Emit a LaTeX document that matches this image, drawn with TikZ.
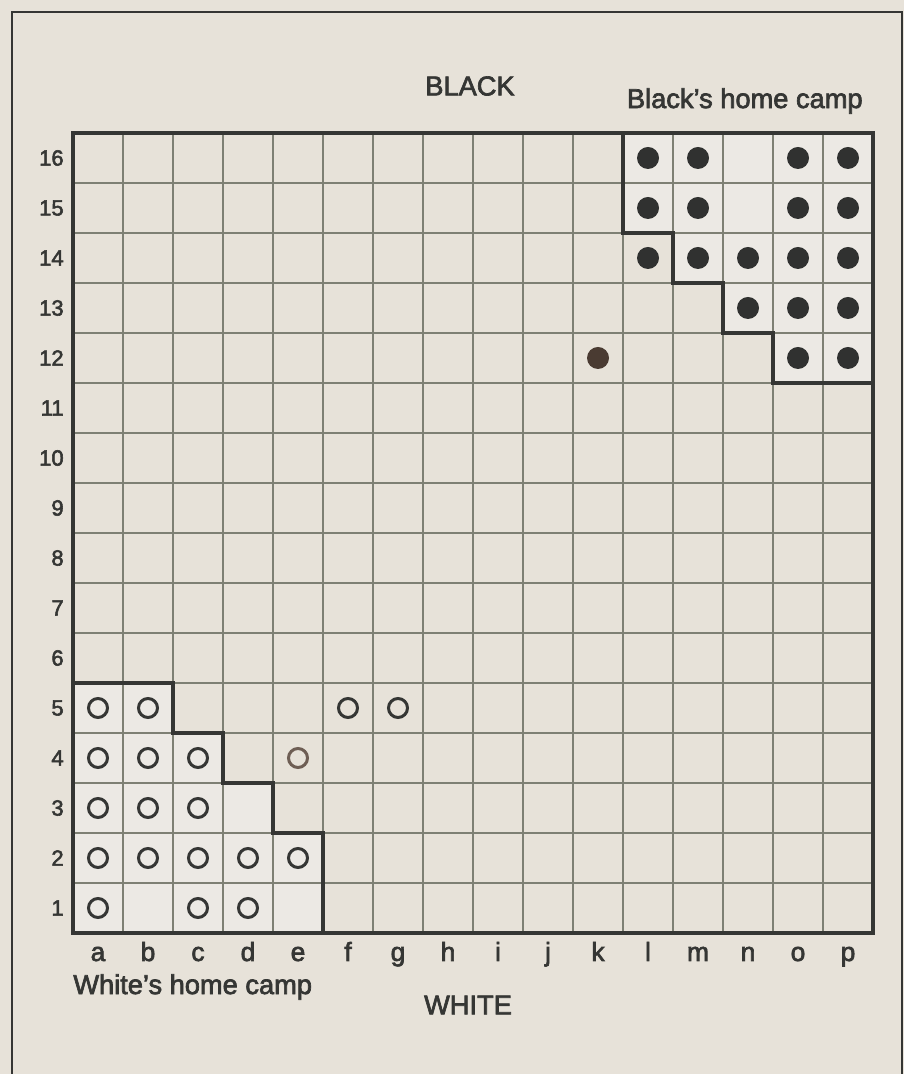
\documentclass[tikz,border=0pt]{standalone}
\usepackage{fontspec}
\setmainfont{Liberation Sans}
\newfontfamily\halmafont{Liberation Sans}[FakeBold=2.5]
\usepackage{tikz}
\usetikzlibrary{calc}
\usepackage{xcolor}
\definecolor{paper}{HTML}{E7E2D9}
\definecolor{camplight}{HTML}{ECE9E4}
\definecolor{gridline}{HTML}{7E8074}
\definecolor{ink}{HTML}{353634}
\definecolor{stone}{HTML}{303130}
\definecolor{stonebrown}{HTML}{4A3B32}
\definecolor{ringbrown}{HTML}{6E5E54}
\tikzset{
    halmaframe/.style={draw=ink, line width=1.5pt},
    halmagrid/.style={draw=gridline, line width=0.6pt},
    halmaborder/.style={draw=ink, line width=2.4pt, line join=miter},
    halmacamp/.style={fill=camplight},
    halmablack/.style={circle, fill=stone, minimum size=0.44cm, inner sep=0pt},
    halmawhite/.style={circle, draw=ink, line width=1.7pt, minimum size=0.38cm, inner sep=0pt},
    halmarow/.style={anchor=east, inner sep=0pt, text=ink, font=\halmafont\fontsize{12.5}{14}\selectfont},
    halmacol/.style={anchor=base, inner sep=0pt, text=ink, font=\halmafont\fontsize{15}{18}\selectfont},
    halmanote/.style={inner sep=0pt, text=ink, font=\halmafont\fontsize{15.5}{18}\selectfont}
}

\begin{document}
\begin{tikzpicture}[x=1cm, y=1cm]
        \useasboundingbox[fill=paper] (-1.46,-2.82) rectangle (16.62,18.66);
        \draw[halmaframe] (-1.22,-3) -- (-1.22,18.42) -- (16.58,18.42) -- (16.58,-3);

        % home camps
        \fill[halmacamp] (0,0) -- (0,5) -- (2,5) -- (2,4) -- (3,4) -- (3,3) -- (4,3) -- (4,2) -- (5,2) -- (5,0) -- cycle;
        \fill[halmacamp] (11,16) -- (11,14) -- (12,14) -- (12,13) -- (13,13) -- (13,12) -- (14,12) -- (14,11) -- (16,11) -- (16,16) -- cycle;

        \draw[halmagrid] (0,0) grid (16,16);
        \draw[halmaborder] (0,0) rectangle (16,16);
        \draw[halmaborder] (0,5) -- (2,5) -- (2,4) -- (3,4) -- (3,3) -- (4,3) -- (4,2) -- (5,2) -- (5,0);
        \draw[halmaborder] (11,16) -- (11,14) -- (12,14) -- (12,13) -- (13,13) -- (13,12) -- (14,12) -- (14,11) -- (16,11);

        % black men
        \foreach \c/\r in {12/16,13/16,15/16,16/16,12/15,13/15,15/15,16/15,12/14,13/14,14/14,15/14,16/14,14/13,15/13,16/13,15/12,16/12}
            \node[halmablack] (b\c-\r) at (\c-0.5,\r-0.5) {};
        \node[halmablack, fill=stonebrown] (b11-12) at (10.5,11.5) {};

        % white men
        \foreach \c/\r in {1/5,2/5,6/5,7/5,1/4,2/4,3/4,1/3,2/3,3/3,1/2,2/2,3/2,4/2,5/2,1/1,3/1,4/1}
            \node[halmawhite] (w\c-\r) at (\c-0.5,\r-0.5) {};
        \node[halmawhite, draw=ringbrown] (w5-4) at (4.5,3.5) {};

        \foreach \r in {1,...,16}
            \node[halmarow] (row\r) at (-0.18,\r-0.5) {\r};
        \foreach \l [count=\i] in {a,...,p}
            \node[halmacol] (col\l) at (\i-0.5,-0.56) {\l};

        \node[halmanote] (black) at (7.94,16.94) {BLACK};
        \node[halmanote, anchor=east] (blackcamp) at (15.8,16.64) {Black’s home camp};
        \node[halmanote, anchor=west] (whitecamp) at (0,-1.08) {White’s home camp};
        \node[halmanote] (white) at (7.9,-1.44) {WHITE};
    \end{tikzpicture}
\end{document}
